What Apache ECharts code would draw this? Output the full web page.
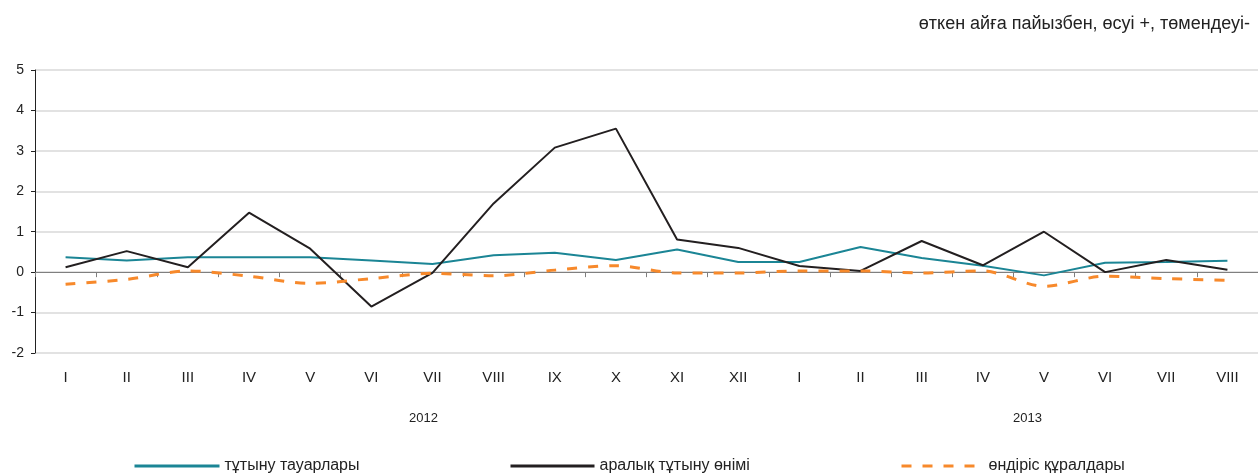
<!DOCTYPE html>
<html>
<head>
<meta charset="utf-8">
<script src="https://cdn.jsdelivr.net/npm/echarts@6/dist/echarts.min.js"></script>
<style>
html,body{margin:0;padding:0;background:#fff;}
#c{width:1258px;height:475px;}
</style>
</head>
<body>
<div id="c"></div>
<script>
const categories = ['I','II','III','IV','V','VI','VII','VIII','IX','X','XI','XII','I','II','III','IV','V','VI','VII','VIII'];
const yearLabels = ['2012','2013'];
const consumerGoods = [0.37,0.29,0.37,0.37,0.37,0.29,0.20,0.42,0.48,0.30,0.56,0.25,0.25,0.62,0.35,0.16,-0.08,0.23,0.25,0.28];
const intermediateGoods = [0.12,0.52,0.12,1.47,0.58,-0.85,-0.02,1.70,3.08,3.55,0.81,0.60,0.15,0.03,0.77,0.17,1.00,0.00,0.30,0.06];
const capitalGoods = [-0.30,-0.18,0.03,-0.10,-0.28,-0.16,-0.03,-0.09,0.05,0.16,-0.02,-0.02,0.03,0.03,-0.02,0.03,-0.35,-0.10,-0.16,-0.20];
const seriesNames = ['тұтыну тауарлары','аралық тұтыну өнімі','өндіріс құралдары'];
const subtitle = 'өткен айға пайызбен, өсуі +, төмендеуі-';

const chart = echarts.init(document.getElementById('c'), null, {renderer:'canvas'});
const font = 'Liberation Sans, Arial, sans-serif';
function legendFor(i, left, w, pad) {
  return {
    data: [seriesNames[i]], left: left, top: 458, padding: 0,
    itemWidth: w, itemHeight: 14, itemGap: 4,
    itemStyle: {opacity: 0},
    lineStyle: {width: 3},
    textStyle: {fontFamily: font, fontSize: 16, color: '#222', padding: [0, 0, 0, pad]}
  };
}
chart.setOption({
  animation: false,
  textStyle: {fontFamily: font},
  title: {
    text: subtitle, right: 3, top: 10,
    textStyle: {fontFamily: font, fontSize: 18, fontWeight: 'normal', color: '#222'}
  },
  legend: [
    legendFor(0, 133, 85, 0),
    legendFor(1, 509, 84, 0),
    legendFor(2, 900, 73, 9)
  ],
  grid: {left: 35, right: 0, top: 70, bottom: 122, containLabel: false},
  xAxis: [
    {
      type: 'category', data: categories, boundaryGap: true,
      axisLine: {show: true, onZero: true, lineStyle: {color: '#7f7f7f', width: 1}},
      axisTick: {show: true, inside: false, length: 5, lineStyle: {color: '#7f7f7f'}},
      axisLabel: {show: false},
      splitLine: {show: false}
    },
    {
      type: 'category', data: categories, boundaryGap: true, position: 'bottom',
      axisLine: {show: false, onZero: false},
      axisTick: {show: false},
      axisLabel: {show: true, margin: 17, fontSize: 15, color: '#222', fontFamily: font, interval: 0},
      splitLine: {show: false}
    }
  ],
  yAxis: {
    type: 'value', min: -2, max: 5, interval: 1,
    axisLine: {show: true, lineStyle: {color: '#222', width: 1}},
    axisTick: {show: true, length: 4, lineStyle: {color: '#222'}},
    axisLabel: {fontSize: 14, color: '#222', margin: 11, fontFamily: font},
    splitLine: {show: true, lineStyle: {color: '#d9d9d9', width: 1.5}}
  },
  graphic: [
    {type: 'text', left: 409, top: 412, style: {text: yearLabels[0], fontSize: 13, fill: '#222', fontFamily: font}},
    {type: 'text', left: 1013, top: 412, style: {text: yearLabels[1], fontSize: 13, fill: '#222', fontFamily: font}}
  ],
  series: [
    {
      name: seriesNames[0], type: 'line', data: consumerGoods, xAxisIndex: 0,
      symbol: 'none', lineStyle: {color: '#1b8595', width: 2}, itemStyle: {color: '#1b8595'}
    },
    {
      name: seriesNames[1], type: 'line', data: intermediateGoods, xAxisIndex: 0,
      symbol: 'none', lineStyle: {color: '#231f20', width: 2}, itemStyle: {color: '#231f20'}
    },
    {
      name: seriesNames[2], type: 'line', data: capitalGoods, xAxisIndex: 0,
      symbol: 'none', smooth: 0.3, lineStyle: {color: '#f7892b', width: 3, type: [10, 11]}, itemStyle: {color: '#f7892b'}
    }
  ]
});
</script>
</body>
</html>
